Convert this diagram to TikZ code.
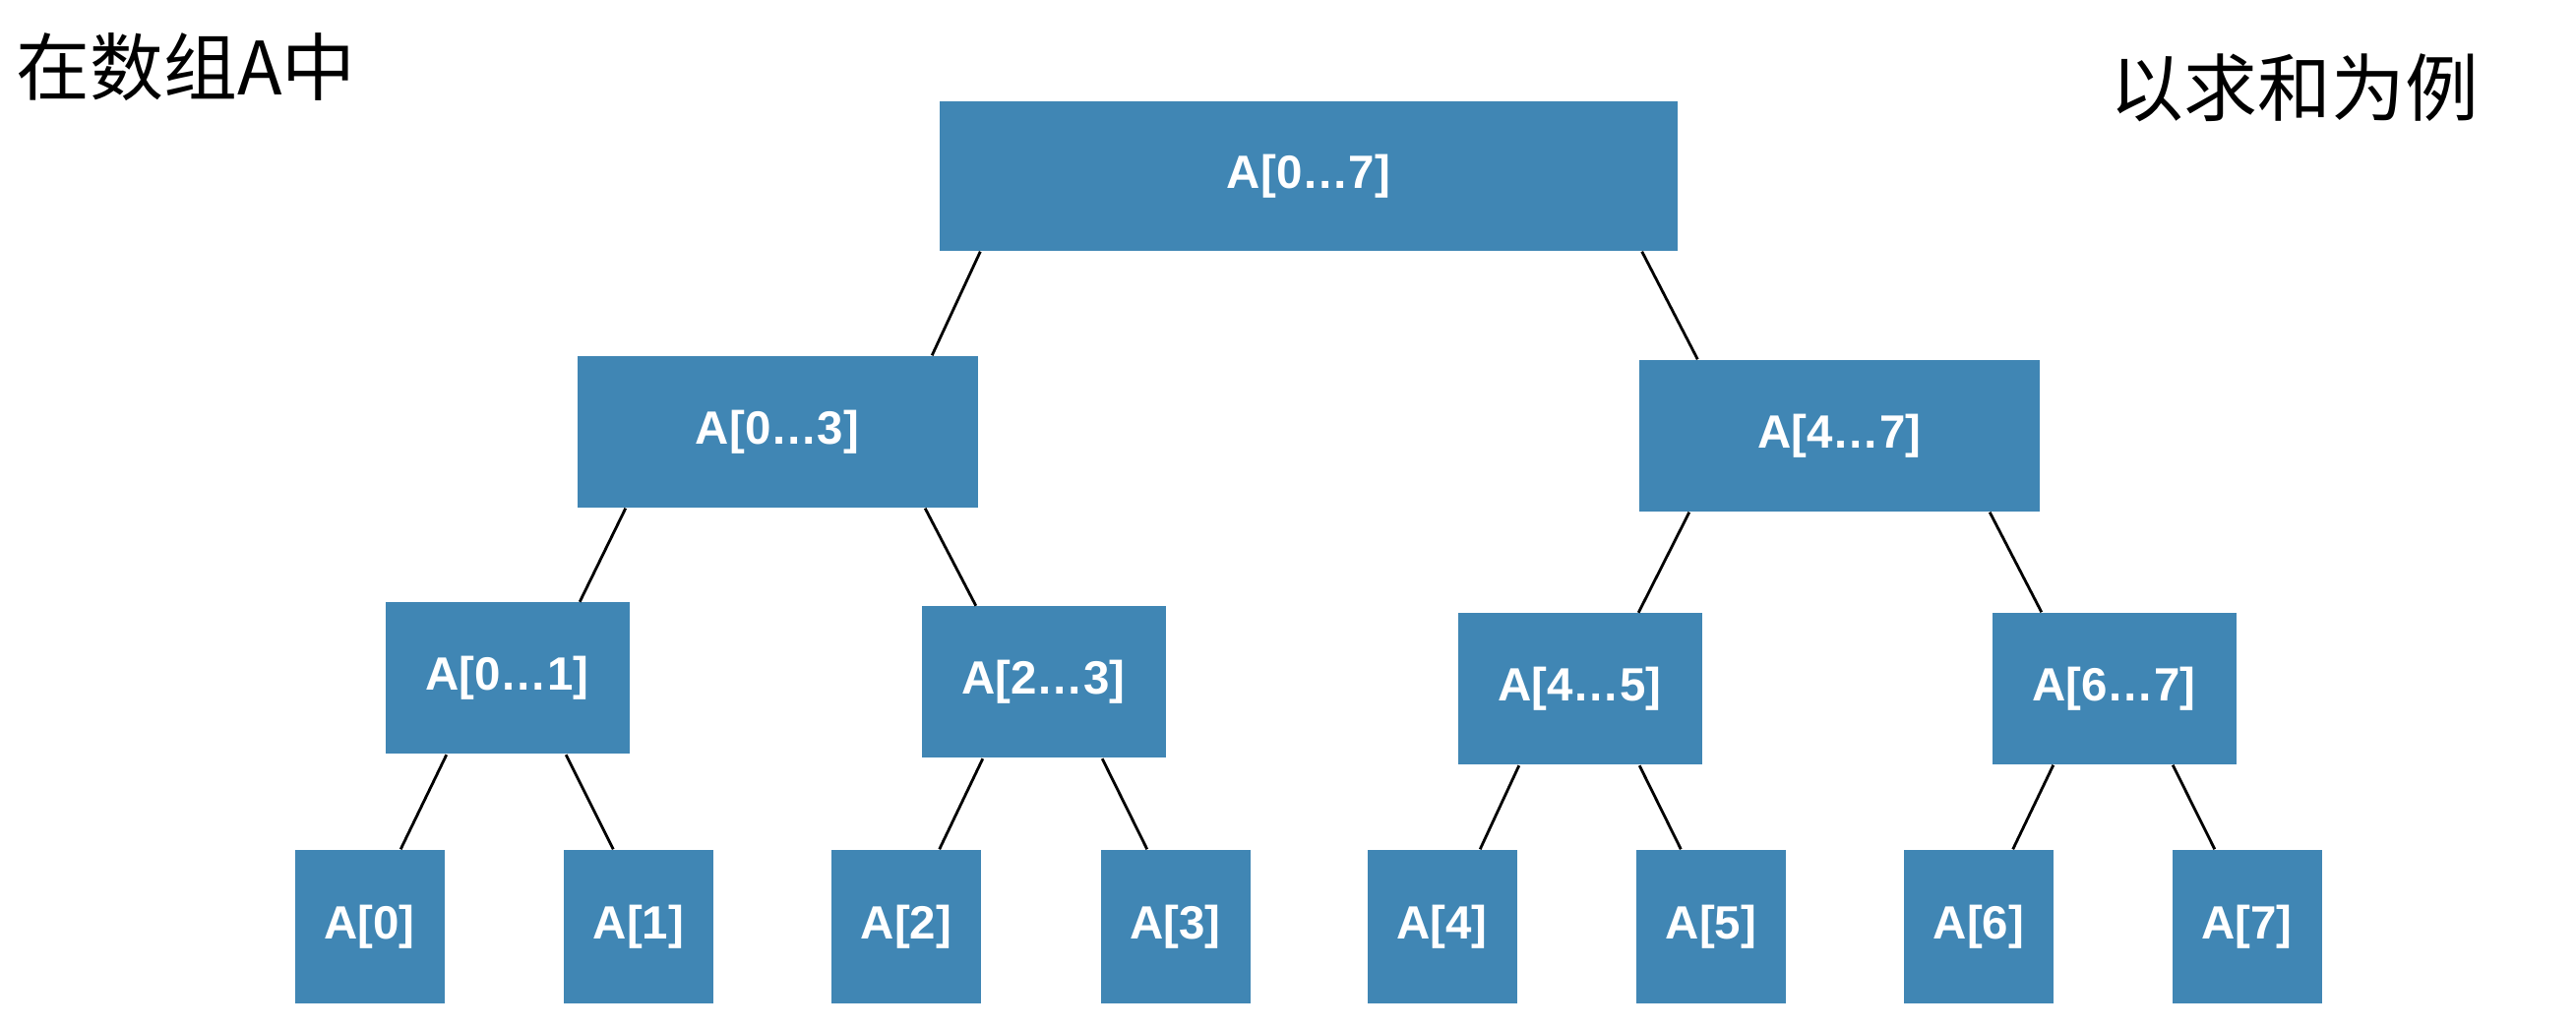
\documentclass[tikz,border=0pt]{standalone}
\usepackage{fontspec}
\setmainfont{Liberation Sans}
\newfontfamily\cjk{Noto Sans CJK SC}
\definecolor{boxblue}{RGB}{64,134,180}
\tikzset{
  box/.style={fill=boxblue, draw=none, text=white, font=\fontsize{13.5}{16}\selectfont\bfseries, inner sep=0pt, align=center},
  lvl0/.style={box, minimum width=7.50cm, minimum height=1.52cm},
  lvl1/.style={box, minimum width=4.07cm, minimum height=1.54cm},
  lvl2/.style={box, minimum width=2.48cm, minimum height=1.54cm},
  leaf/.style={box, minimum width=1.52cm, minimum height=1.56cm},
  edge/.style={draw=black, line width=0.8pt},
  title/.style={font=\cjk\fontsize{21.3}{24}\selectfont, inner sep=0pt, anchor=base west, text=black}
}
\begin{document}
\begin{tikzpicture}
\useasboundingbox (0,0) rectangle (26.18,-10.46);
\fill[white] (0,0) rectangle (26.18,-10.46);

\node[title] (t1) at (0.16,-0.97) {在数组A中};
\node[title] (t2) at (21.44,-1.18) {以求和为例};

\node[lvl0] (r) at (13.30,-1.79) {A[0…7]};
\node[lvl1] (a03) at (7.90,-4.39) {A[0…3]};
\node[lvl1] (a47) at (18.695,-4.43) {A[4…7]};
\node[lvl2] (a01) at (5.155,-6.895) {A[0…1]};
\node[lvl2] (a23) at (10.605,-6.935) {A[2…3]};
\node[lvl2] (a45) at (16.055,-7.005) {A[4…5]};
\node[lvl2] (a67) at (21.485,-7.00) {A[6…7]};
\node[leaf] (l0) at (3.755,-9.42) {A[0]};
\node[leaf] (l1) at (6.49,-9.42) {A[1]};
\node[leaf] (l2) at (9.21,-9.42) {A[2]};
\node[leaf] (l3) at (11.945,-9.42) {A[3]};
\node[leaf] (l4) at (14.655,-9.42) {A[4]};
\node[leaf] (l5) at (17.39,-9.42) {A[5]};
\node[leaf] (l6) at (20.11,-9.42) {A[6]};
\node[leaf] (l7) at (22.835,-9.42) {A[7]};

\draw[edge] ([xshift=4.2mm]r.south west) -- ([xshift=-4.7mm]a03.north east);
\draw[edge] ([xshift=-3.7mm]r.south east) -- ([xshift=6.0mm]a47.north west);
\draw[edge] ([xshift=5.0mm]a03.south west) -- ([xshift=-5.1mm]a01.north east);
\draw[edge] ([xshift=-5.4mm]a03.south east) -- ([xshift=5.6mm]a23.north west);
\draw[edge] ([xshift=5.15mm]a47.south west) -- ([xshift=-6.5mm]a45.north east);
\draw[edge] ([xshift=-5.15mm]a47.south east) -- ([xshift=5.1mm]a67.north west);
\draw[edge] ([xshift=6.3mm]a01.south west) -- ([xshift=-4.5mm]l0.north east);
\draw[edge] ([xshift=-6.5mm]a01.south east) -- ([xshift=5.1mm]l1.north west);
\draw[edge] ([xshift=6.3mm]a23.south west) -- ([xshift=-4.3mm]l2.north east);
\draw[edge] ([xshift=-6.5mm]a23.south east) -- ([xshift=4.8mm]l3.north west);
\draw[edge] ([xshift=6.3mm]a45.south west) -- ([xshift=-3.8mm]l4.north east);
\draw[edge] ([xshift=-6.4mm]a45.south east) -- ([xshift=4.6mm]l5.north west);
\draw[edge] ([xshift=6.3mm]a67.south west) -- ([xshift=-4.2mm]l6.north east);
\draw[edge] ([xshift=-6.5mm]a67.south east) -- ([xshift=4.4mm]l7.north west);
\end{tikzpicture}
\end{document}
